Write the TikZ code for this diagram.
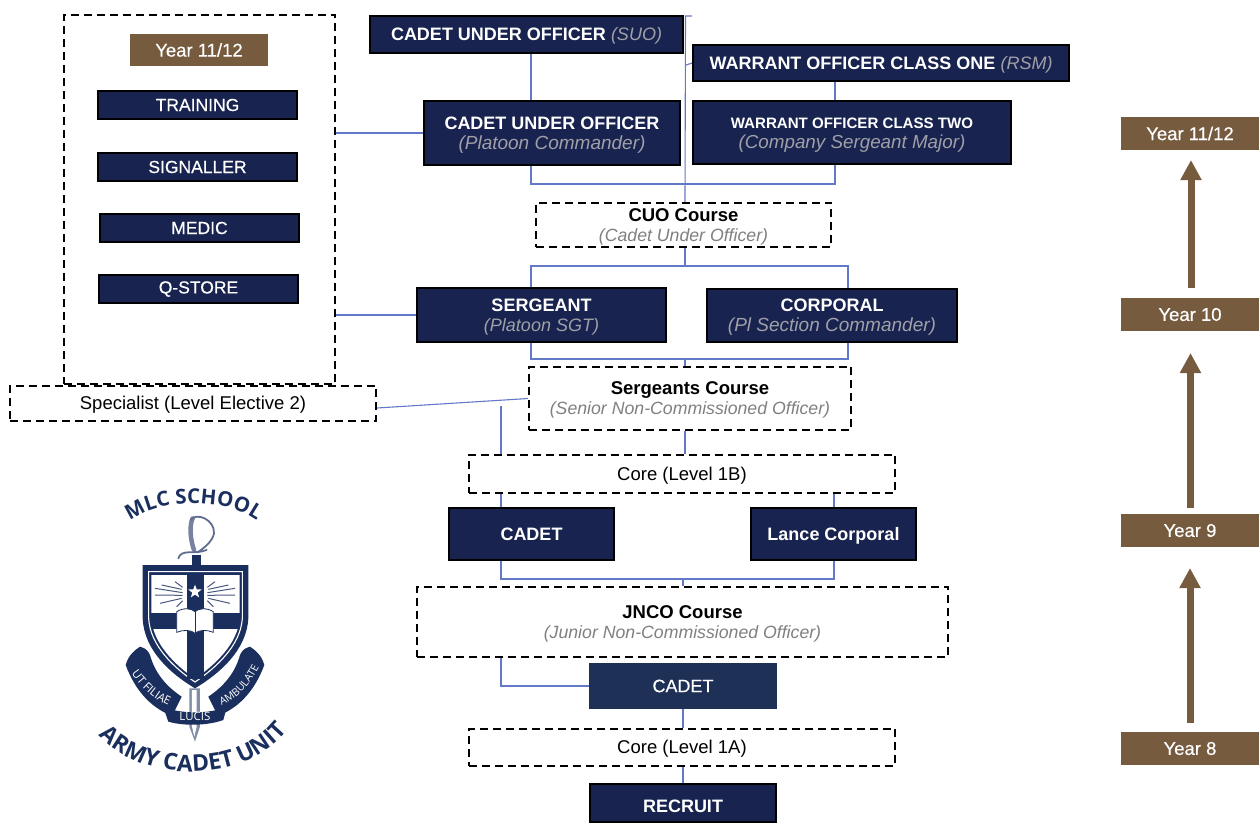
\documentclass[tikz,border=0pt]{standalone}
\usepackage{fontspec}
\setmainfont{Liberation Sans}
\newfontfamily\logofont{Open Sans}
\newfontfamily\medfont[FakeBold=0.35]{Liberation Sans}
\usetikzlibrary{decorations.text,arrows.meta,shapes.geometric}
\definecolor{navy}{HTML}{18234F}
\definecolor{navytwo}{HTML}{1F3057}
\definecolor{brownbox}{HTML}{765B3F}
\definecolor{linkc}{HTML}{6478C8}
\definecolor{grayin}{HTML}{A0A0A8}
\definecolor{grayout}{HTML}{808080}
\definecolor{crest}{HTML}{1B2F5E}
\newcommand{\bx}[6]{\node[#1,#2,minimum width=#4-#3-1.8,minimum height=#6-#5-1.8] at ({(#3+#4)/2},{-(#5+#6)/2})}
\newcommand{\tp}{\rule{0pt}{16pt}}
\tikzset{
  x=1pt,y=1pt,
  rank/.style={draw=black,line width=1.8pt,fill=navy,text=white,font=\fontsize{18}{20}\selectfont,align=center,inner sep=0pt},
  skill/.style={rank,font=\medfont\fontsize{17.5}{20}\selectfont},
  course/.style={draw=black,line width=1.8pt,dash pattern=on 8pt off 5pt,fill=white,text=black,font=\fontsize{18.5}{20}\selectfont,align=center,inner sep=0pt},
  year/.style={draw=brownbox,line width=1.8pt,fill=brownbox,text=white,font=\medfont\fontsize{18.5}{20}\selectfont,inner sep=0pt},
  link/.style={draw=linkc,line width=1.1pt},
  climb/.style={draw=brownbox,line width=7pt,-{Triangle[length=20pt,width=20pt]}},
}
\newcommand{\ing}[2][18]{{\color{grayin}\itshape\fontsize{#1}{20}\selectfont #2}}
\newcommand{\outg}[1]{{\color{grayout}\itshape\fontsize{17.7}{20}\selectfont #1}}
\begin{document}
\begin{tikzpicture}
\useasboundingbox (0,0) rectangle (1259,-823);
% big dashed frame
\bx{course}{}{63}{336}{14}{385} (big) {};
\bx{course}{}{9}{377}{385}{422} (spec) {\tp Specialist (Level Elective 2)};
\bx{year}{}{130}{268}{34}{66} (yl) {Year 11/12};
\bx{skill}{}{97}{298}{90}{120} (tr) {TRAINING};
\bx{skill}{}{97}{298}{152}{182} (si) {SIGNALLER};
\bx{skill}{}{99}{300}{213}{243} (me) {MEDIC};
\bx{skill}{}{98}{299}{274}{304} (qs) {Q-STORE};
% ranks
\bx{rank}{}{369}{684}{15}{54} (suo) {\tp\textbf{CADET UNDER OFFICER} \ing{(SUO)}};
\bx{rank}{}{692}{1070}{44}{82} (rsm) {\tp\textbf{WARRANT OFFICER CLASS ONE} \ing{(RSM)}};
\bx{rank}{}{423}{681}{100}{166} (pc) {\tp\textbf{CADET UNDER OFFICER}\\\ing[19]{(Platoon Commander)}};
\bx{rank}{}{692}{1012}{100}{165} (csm) {\tp\textbf{\fontsize{15.1}{20}\selectfont WARRANT OFFICER CLASS TWO}\\\ing[18.8]{(Company Sergeant Major)}};
\bx{course}{}{535}{832}{202}{248} (cuo) {\tp\textbf{CUO Course}\\\outg{(Cadet Under Officer)}};
\bx{rank}{}{416}{667}{287}{343} (sgt) {\tp\textbf{SERGEANT}\\\ing{(Platoon SGT)}};
\bx{rank}{}{706}{958}{288}{343} (cpl) {\tp\textbf{CORPORAL}\\\ing[19]{(Pl Section Commander)}};
\bx{course}{}{528}{852}{366}{431} (sc) {\tp\textbf{Sergeants Course}\\\outg{(Senior Non-Commissioned Officer)}};
\bx{course}{}{468}{896}{454}{494} (cb) {\tp Core (Level 1B)};
\bx{rank}{}{448}{615}{507}{561} (cad) {\textbf{CADET}};
\bx{rank}{}{750}{917}{507}{561} (lc) {\tp\textbf{Lance Corporal}};
\bx{course}{}{416}{949}{586}{658} (jn) {\tp\textbf{JNCO Course}\\\outg{(Junior Non-Commissioned Officer)}};
\bx{rank}{draw=navytwo,fill=navytwo}{589}{777}{663}{709} (cadb) {\medfont CADET};
\bx{course}{}{468}{896}{728}{767} (ca) {\tp Core (Level 1A)};
\bx{rank}{}{589}{777}{783}{823} (rec) {\rule{0pt}{19pt}\textbf{RECRUIT}};
% years
\bx{year}{}{1121}{1259}{117}{150} (y4) {Year 11/12};
\bx{year}{}{1121}{1259}{298}{331} (y3) {Year 10};
\bx{year}{}{1121}{1259}{514}{547} (y2) {Year 9};
\bx{year}{}{1121}{1259}{732}{765} (y1) {Year 8};
\coordinate (a3) at (1191,-288); \coordinate (a4) at (1191,-160);
\coordinate (a2) at (1190.5,-508); \coordinate (a3b) at (1190.5,-353);
\coordinate (a1) at (1190,-723); \coordinate (a2b) at (1190,-568);
\draw[climb] (a3) -- (a4);
\draw[climb] (a2) -- (a3b);
\draw[climb] (a1) -- (a2b);
% connector columns
\coordinate (xl) at (531,0); \coordinate (xr) at (835,0); \coordinate (xm) at (685,0);
\coordinate (xs) at (501,0); \coordinate (xc) at (848,0); \coordinate (xk) at (834,0); \coordinate (xn) at (683,0);
\coordinate (sy) at (0,-408);
\draw[link] (suo.south -| xl) -- (pc.north -| xl);
\draw[link] (rsm.south -| xr) -- (csm.north -| xr);
\draw[link] (pc.south -| xl) -- ++(0,-18) -| (csm.south -| xr);
\draw[link] (cuo.north -| xm) -- (685.5,-16) -- (692,-16);
\draw[link] (rsm.west) -- (686,-65);
\draw[link] (big.east |- pc.west) -- (pc.west);
\draw[link] (big.east |- sgt.west) -- (sgt.west);
\draw[link] (cuo.south -| xm) -- (685,-266);
\draw[link] (sgt.north -| xl) |- (685,-266) -| (cpl.north -| xc);
\draw[link] (sgt.south -| xl) |- (685,-359) -| (cpl.south -| xc);
\draw[link] (685,-359) -- (sc.north -| xm);
\draw[link] (sc.south -| xm) -- (cb.north -| xm);
\draw[link] (spec.east |- sy) -- (sc.west);
\coordinate (st) at (501,-406);
\draw[link] (st) -- (cb.north -| st);
\draw[link] (cb.south -| xs) -- (cad.north -| xs);
\draw[link] (cb.south -| xk) -- (lc.north -| xk);
\draw[link] (cad.south -| xs) |- (683,-579) -| (lc.south -| xk);
\draw[link] (683,-579) -- (jn.north -| xn);
\draw[link] (jn.south -| xs) |- (cadb.west);
\draw[link] (cadb.south -| xn) -- (ca.north -| xn);
\draw[link] (ca.south -| xn) -- (rec.north -| xn);
% crest: shapes
\begin{scope}[shift={(60,-470)},xscale=1/3,yscale=-1/3]
 % sword
 \fill[crest] (397,255) rectangle (423,300);
 \draw[crest!60!white,line width=4.5pt,line cap=round] (398,145) .. controls (388,165) and (390,205) .. (402,240);
 \draw[crest!70!white,line width=1.8pt] (392,150) .. controls (410,125) and (465,150) .. (462,190) .. controls (458,215) and (430,235) .. (412,248);
 \draw[crest!70!white,line width=1.8pt,line cap=round] (355,265) .. controls (365,235) and (400,255) .. (440,240);
 \fill[crest!55!white] (388,655) -- (420,655) -- (420,770) -- (405,815) -- (388,770) -- cycle;
 \fill[white] (396,660) -- (410,660) -- (410,770) -- (403,800) -- (396,770) -- cycle;
 % ribbons
 \fill[crest] (197,585) .. controls (205,555) and (225,540) .. (240,530) .. controls (260,535) and (265,545) .. (270,555) .. controls (285,610) and (320,650) .. (365,680) -- (345,720) -- (330,735) .. controls (270,710) and (225,660) .. (197,585) -- cycle;
 \fill[crest] (613,585) .. controls (605,555) and (585,540) .. (570,530) .. controls (550,535) and (545,545) .. (540,555) .. controls (525,610) and (490,650) .. (445,680) -- (465,720) -- (480,735) .. controls (540,710) and (585,660) .. (613,585) -- cycle;
 \fill[crest] (310,712) .. controls (370,732) and (440,732) .. (500,712) -- (490,750) .. controls (440,768) and (370,768) .. (325,755) -- cycle;
 % shield
 \fill[crest] (248,285) -- (565,285) -- (565,445) .. controls (560,540) and (480,610) .. (405,655) .. controls (330,610) and (252,540) .. (248,445) -- cycle;
 \draw[white,line width=1.1pt] (266,305) -- (547,305) -- (547,445) .. controls (542,525) and (470,592) .. (405,636) .. controls (340,592) and (270,525) .. (266,445) -- cycle;
 \fill[white] (274,315) -- (539,315) -- (539,445) .. controls (534,520) and (465,585) .. (405,626) .. controls (345,585) and (279,520) .. (274,445) -- cycle;
 \fill[crest] (381,310) rectangle (431,628);
 \fill[crest] (274,428) rectangle (539,478);
 \node[star,star points=5,star point ratio=2.4,fill=white,minimum size=14pt,inner sep=0pt] (starn) at (405,365) {};
 \fill[white,draw=crest,line width=.8pt] (350,425) .. controls (370,412) and (395,415) .. (405,425) .. controls (415,415) and (440,412) .. (460,425) -- (460,487) .. controls (440,478) and (415,480) .. (405,490) .. controls (395,480) and (370,478) .. (350,487) -- cycle;
 \draw[crest,line width=.8pt] (405,425) -- (405,490);
 \foreach \a/\b/\c/\d in {305/345/365/358, 285/355/368/368, 285/375/368/376, 300/400/365/385, 345/335/368/352, 350/410/368/392}{
   \draw[crest!80!white,line width=1pt] (\a,\b) -- (\c,\d);
   \draw[crest!80!white,line width=1pt] (810-\a,\b) -- (810-\c,\d);
 }
\end{scope}
% crest: texts (unflipped, so that they read correctly)
\begin{scope}[shift={(60,-470)},scale=1/3]
 \path[decorate,decoration={text along path,text align={align=center},text={|\logofont\fontsize{11.5}{12}\selectfont\color{white}|UT FILIAE}}] (206,-598) .. controls (235,-645) and (275,-690) .. (340,-712);
 \path[decorate,decoration={text along path,text align={align=center},text={|\logofont\fontsize{10.5}{12}\selectfont\color{white}|AMBULATE}}] (478,-708) .. controls (530,-690) and (575,-640) .. (600,-585);
 \node[text=white,font=\logofont\fontsize{11.5}{12}\selectfont,inner sep=0pt] (lucis) at (405,-738) {LUCIS};
 \path[decorate,decoration={text along path,text align={align=center},text={|\logofont\bfseries\fontsize{20.5}{24}\selectfont\color{crest}|MLC SCHOOL}}] (200,-160) .. controls (290,-80) and (510,-80) .. (600,-160);
 \path[decorate,decoration={text along path,text align={align=center},text={|\logofont\bfseries\fontsize{23}{25}\selectfont\color{crest}|ARMY CADET UNIT}}] (105,-785) .. controls (230,-940) and (560,-955) .. (690,-770);
\end{scope}
\end{tikzpicture}
\end{document}
